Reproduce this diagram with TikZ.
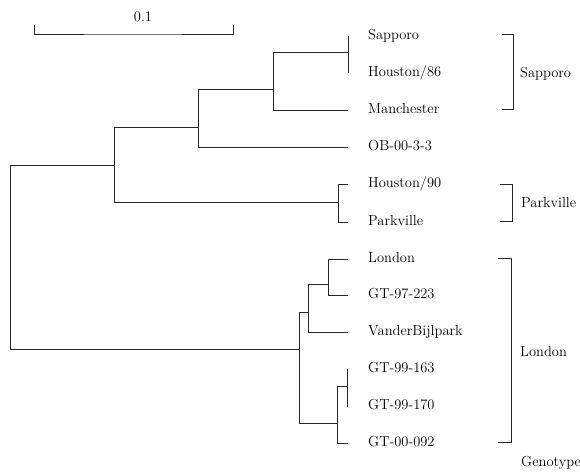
\documentclass[tikz,border=0pt]{standalone}
\usepackage{tikz}
\usetikzlibrary{positioning,calc}
\tikzset{
  lev/.style={anchor=west,inner xsep=20pt,inner ysep=0pt,text height=10pt,text depth=3pt},
  csop/.style={anchor=west,inner sep=0pt,text height=10pt,text depth=3pt},
  ag/.style={line width=1pt,black!85},
  zar/.style={line width=1pt,black!85},
}

\begin{document}
\begin{tikzpicture}[x=1pt,y=-1pt,font=\fontsize{14.5}{16}\selectfont]
  \useasboundingbox (0,0) rectangle (580,471);
  % scale bar
  \coordinate (sb1) at (34,25); \coordinate (sbm) at (133,34); \coordinate (sb2) at (233,25);
  \draw[ag] (sb1) |- (sbm) -| (sb2);
  \node (skala) at (143,17) {0.1};
  % leaves
  \node[lev] (sap) at (348,36) {Sapporo};
  \node[lev] (h86) at (348,73) {Houston/86};
  \node[lev] (man) at (348,110) {Manchester};
  \node[lev] (ob) at (348,147) {OB-00-3-3};
  \node[lev] (h90) at (348,184) {Houston/90};
  \node[lev] (park) at (348,222) {Parkville};
  \node[lev] (lon) at (348,259) {London};
  \node[lev] (gt97) at (348,295) {GT-97-223};
  \node[lev] (vdb) at (348,332) {VanderBijlpark};
  \node[lev] (gt163) at (348,369) {GT-99-163};
  \node[lev] (gt170) at (348,406) {GT-99-170};
  \node[lev] (gt092) at (348,443) {GT-00-092};
  % inner nodes
  \coordinate (root) at (10,256);
  \coordinate (nA) at (114,165); \coordinate (nB) at (198,127);
  \coordinate (nC) at (273,89); \coordinate (nD) at (348,52);
  \coordinate (nP) at (338,202);
  \coordinate (nL) at (299,349); \coordinate (nE) at (308,312);
  \coordinate (nG) at (328,284); \coordinate (nF) at (337,423);
  \coordinate (nH) at (347,386);
  % branches
  \draw[ag] (root) |- (nA); \draw[ag] (root) |- (nL);
  \draw[ag] (nA) |- (nB); \draw[ag] (nA) |- (nP);
  \draw[ag] (nB) |- (nC); \draw[ag] (nB) |- (ob.west);
  \draw[ag] (nC) |- (nD); \draw[ag] (nC) |- (man.west);
  \draw[ag] (nD) |- (sap.west); \draw[ag] (nD) |- (h86.west);
  \draw[ag] (nP) |- (h90.west); \draw[ag] (nP) |- (park.west);
  \draw[ag] (nL) |- (nE); \draw[ag] (nL) |- (nF);
  \draw[ag] (nE) |- (nG); \draw[ag] (nE) |- (vdb.west);
  \draw[ag] (nG) |- (lon.west); \draw[ag] (nG) |- (gt97.west);
  \draw[ag] (nF) |- (nH); \draw[ag] (nF) |- (gt092.west);
  \draw[ag] (nH) |- (gt163.west); \draw[ag] (nH) |- (gt170.west);
  % genotype brackets
  \draw[zar] (502,34) -| (513,109) -- (502,109);
  \node[csop] (gsap) at (520,74) {Sapporo};
  \draw[zar] (500,184) -| (512,221) -- (500,221);
  \node[csop] (gpark) at (521,204) {Parkville};
  \draw[zar] (498,258) -| (511,442) -- (498,442);
  \node[csop] (glon) at (520,353) {London};
  \node[csop] (gen) at (521,463) {Genotype};
\end{tikzpicture}
\end{document}
